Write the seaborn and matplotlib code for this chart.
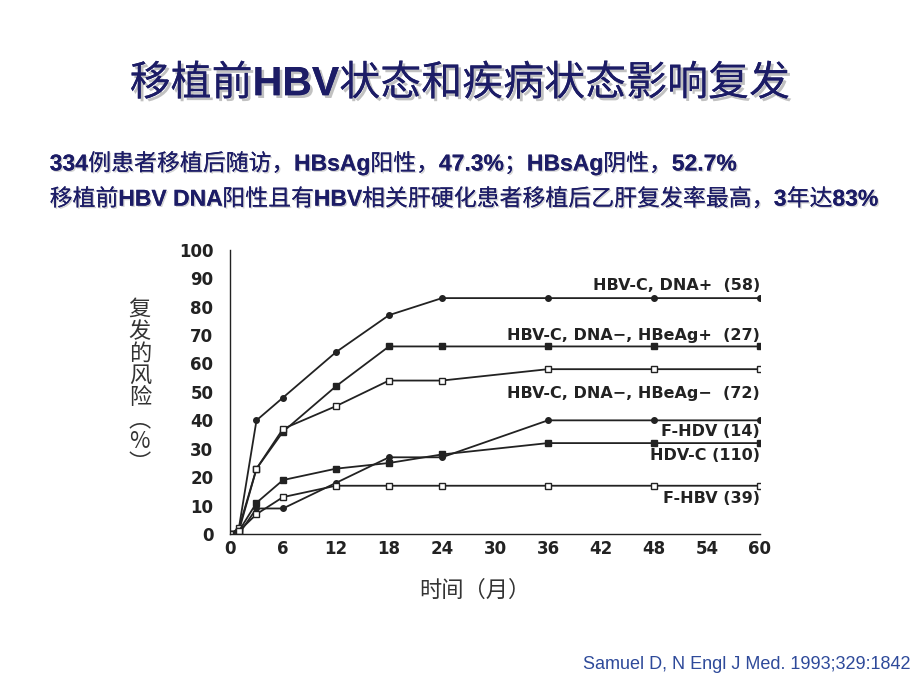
import matplotlib
matplotlib.use("Agg")
import matplotlib.pyplot as plt
import matplotlib.patheffects as pe
from matplotlib.ticker import MultipleLocator
import pandas as pd
import seaborn as sns

# months after transplant
months = [0, 1, 3, 6, 12, 18, 24, 36, 48, 60]

hbvc_dna_pos = [0, 2, 40, 48, 64, 77, 83, 83, 83, 83]
hbvc_hbeag_pos = [0, 1, 23, 36, 52, 66, 66, 66, 66, 66]
hbvc_hbeag_neg = [0, 2, 23, 37, 45, 54, 54, 58, 58, 58]
f_hdv = [0, 0, 9, 9, 18, 27, 27, 40, 40, 40]
hdv_c = [0, 1, 11, 19, 23, 25, 28, 32, 32, 32]
f_hbv = [0, 1, 7, 13, 17, 17, 17, 17, 17, 17]

series_names = ["HBV-C, DNA+  (58)", "HBV-C, DNA\u2212, HBeAg+  (27)",
                "HBV-C, DNA\u2212, HBeAg\u2212  (72)", "F-HDV (14)",
                "HDV-C (110)", "F-HBV (39)"]
series_values = [hbvc_dna_pos, hbvc_hbeag_pos, hbvc_hbeag_neg, f_hdv, hdv_c, f_hbv]
# where each label sits (y value), right aligned at x = 60
label_y = [87.5, 70, 49.5, 36, 27.5, 12.5]
markers = ["o", "s", "s", "o", "s", "s"]
filled = [True, True, False, True, True, False]
msizes = [4, 5, 5, 4, 5, 5]

xticks = list(range(0, 61, 6))
yticks = list(range(0, 101, 10))

# (text, bold) pieces: latin parts are bold, chinese parts regular
title_parts = [("移植前", False), ("HBV", True), ("状态和疾病状态影响复发", False)]
line1_parts = [("334", True), ("例患者移植后随访，", False), ("HBsAg", True), ("阳性，", False),
               ("47.3%", True), ("；", False), ("HBsAg", True), ("阴性，", False), ("52.7%", True)]
line2_parts = [("移植前", False), ("HBV DNA", True), ("阳性且有", False), ("HBV", True),
               ("相关肝硬化患者移植后乙肝复发率最高，", False), ("3", True), ("年达", False),
               ("83%", True)]

rows = []
for name, vals in zip(series_names, series_values):
    for m, v in zip(months, vals):
        rows.append({"month": m, "risk": v, "group": name})
df = pd.DataFrame(rows)

sns.set_style("white")
plt.rcParams['font.family'] = ['Noto Sans CJK SC', 'DejaVu Sans']

fig = plt.figure(figsize=(9.2, 6.9), dpi=100)
ax = fig.add_axes([0.25, 0.226, 0.576, 0.412])

for name, mk, fl, ms in zip(series_names, markers, filled, msizes):
    sub = df[df["group"] == name]
    sns.lineplot(data=sub, x="month", y="risk", ax=ax, color="#222222",
                 linewidth=1.3, marker=mk, markersize=ms,
                 markerfacecolor="#222222" if fl else "white",
                 markeredgecolor="#222222", markeredgewidth=1.0,
                 legend=False)

for name, yv in zip(series_names, label_y):
    ax.text(60, yv, name, ha="right", va="center", fontsize=11.5,
            fontweight="bold", color="#222222", family=["DejaVu Sans"])

ax.set_xlim(0, 60)
ax.set_ylim(0, 100)
ax.set_xticks(xticks)
ax.set_yticks(yticks)
ax.xaxis.set_minor_locator(MultipleLocator(3))
ax.yaxis.set_minor_locator(MultipleLocator(5))
ax.tick_params(axis="x", which="both", direction="in", length=4, pad=4,
               labelsize=12, color="#222222")
ax.tick_params(axis="y", which="both", direction="out", length=4, pad=8,
               labelsize=12, color="#222222")
ax.tick_params(which="minor", length=2)
for lab in ax.get_xticklabels() + ax.get_yticklabels():
    lab.set_fontweight("bold")
    lab.set_family("DejaVu Sans")
    lab.set_color("#222222")
for side in ["top", "right"]:
    ax.spines[side].set_visible(False)
for side in ["left", "bottom"]:
    ax.spines[side].set_color("#222222")
    ax.spines[side].set_linewidth(1.0)
ax.set_xlabel("")
ax.set_ylabel("")

# axis titles
fig.text(0.516, 0.145, "时间（月）", ha="center", va="center", fontsize=16,
         color="#333333")
fig.text(0.152, 0.44, "复\n发\n的\n风\n险\n\ufe35\n%\n\ufe36", ha="center", va="center",
         fontsize=16, color="#333333", linespacing=0.95)

renderer = fig.canvas.get_renderer()


def draw_parts(x, y, parts, size, color, effects, align="left"):
    '''Draws text pieces one after another, bold for latin pieces.'''
    texts = []
    for s, bold in parts:
        fam = ["Liberation Sans", "Noto Sans CJK SC"] if bold else ["Noto Sans CJK SC", "DejaVu Sans"]
        t = fig.text(0, y, s, ha="left", va="baseline", fontsize=size, color=color,
                     fontweight="bold" if bold else "normal", family=fam,
                     path_effects=effects)
        texts.append(t)
    widths = [t.get_window_extent(renderer).width / fig.bbox.width for t in texts]
    cur = x - sum(widths) / 2 if align == "center" else x
    for t, w in zip(texts, widths):
        t.set_x(cur)
        cur += w


shadow = [pe.withSimplePatchShadow(offset=(2, -2), shadow_rgbFace="#999999", alpha=0.6),
          pe.Normal()]
draw_parts(0.5, 0.862, title_parts, 29.5, "#1c1c66", shadow, align="center")

sub_shadow = [pe.withSimplePatchShadow(offset=(1, -1), shadow_rgbFace="#aaaaaa", alpha=0.5),
              pe.Normal()]
draw_parts(0.054, 0.753, line1_parts, 16.5, "#1c1c66", sub_shadow)
draw_parts(0.054, 0.702, line2_parts, 16.5, "#1c1c66", sub_shadow)

fig.text(0.99, 0.037, "Samuel D, N Engl J Med. 1993;329:1842", ha="right", va="center",
         fontsize=13, color="#2e4a9a", family=["Liberation Sans", "DejaVu Sans"])

fig.savefig("out.png", dpi=100)
